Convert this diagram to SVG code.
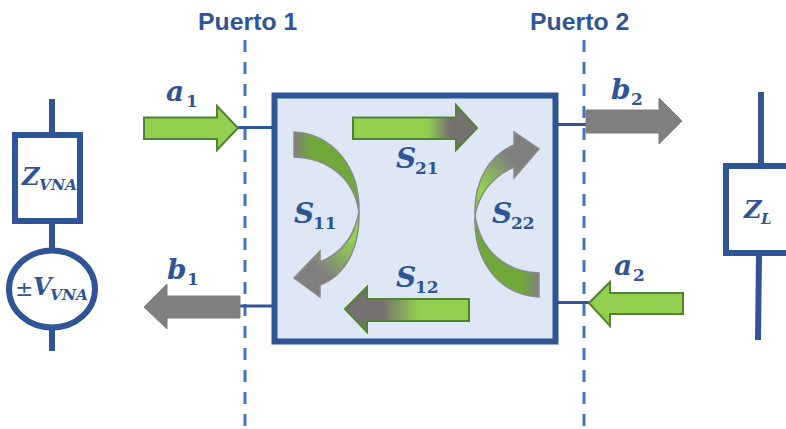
<svg xmlns="http://www.w3.org/2000/svg" width="786" height="429" viewBox="0 0 786 429">
<style>
.w{fill:none;stroke:#2f5597;stroke-width:6}
.t{fill:none;stroke:#2f5597;stroke-width:3}
.d{fill:none;stroke:#4472c4;stroke-width:3;stroke-dasharray:12 10}
.ga{fill:#92d050;stroke:#548235;stroke-width:2}
.gy{fill:#7f7f7f;stroke:#7f7f7f;stroke-width:1}
.cv{stroke:#8a8a8a;stroke-width:1.5}
.p{font:bold 24.800px "Liberation Sans",Arial,sans-serif;fill:#2f5597}
.m{font:italic bold 28px "DejaVu Serif",serif;fill:#2f5597}
.s{font:bold 17px "DejaVu Serif",serif;fill:#2f5597}
.mz{font:italic bold 24px "DejaVu Serif",serif;fill:#2f5597}
.sz{font:italic bold 15px "DejaVu Serif",serif;fill:#2f5597}
.pm{font:22px "DejaVu Sans",sans-serif;fill:#2f5597}
</style>
<defs>
<linearGradient id="g21" gradientUnits="userSpaceOnUse" x1="353" y1="0" x2="477" y2="0"><stop offset=".6" stop-color="#92d050"/><stop offset=".78" stop-color="#767171"/></linearGradient>
<linearGradient id="g12" gradientUnits="userSpaceOnUse" x1="469" y1="0" x2="345" y2="0"><stop offset=".4" stop-color="#92d050"/><stop offset=".7" stop-color="#767171"/></linearGradient>
<linearGradient id="g11a" gradientUnits="userSpaceOnUse" x1="294" y1="0" x2="322" y2="0"><stop offset="0" stop-color="#7f7f7f"/><stop offset=".6" stop-color="#70a83a"/></linearGradient>
<linearGradient id="g11b" gradientUnits="userSpaceOnUse" x1="345" y1="235" x2="318" y2="270"><stop offset="0" stop-color="#92d050"/><stop offset="1" stop-color="#7f7f7f"/></linearGradient>
<linearGradient id="g22a" gradientUnits="userSpaceOnUse" x1="539" y1="0" x2="511" y2="0"><stop offset="0" stop-color="#7f7f7f"/><stop offset=".6" stop-color="#70a83a"/></linearGradient>
<linearGradient id="g22b" gradientUnits="userSpaceOnUse" x1="485" y1="190" x2="512" y2="160"><stop offset="0" stop-color="#92d050"/><stop offset="1" stop-color="#7f7f7f"/></linearGradient>
</defs>
<text class="p" x="198" y="30">Puerto 1</text>
<text class="p" x="530" y="30">Puerto 2</text>
<g id="connectors">
<path class="d" d="M245 40V429"/>
<path class="d" d="M584 40V429"/>
<path class="t" d="M238 127.500H272"/>
<path class="t" d="M240 306H272"/>
<path class="t" d="M558 124.500H586"/>
<path class="t" d="M558 302.500H589"/>
</g>
<g id="vna">
<path class="w" d="M52 99V133M52 223V250M52 328V351"/>
<rect class="w" x="15" y="135" width="65" height="86"/>
<ellipse class="w" cx="52" cy="289" rx="43" ry="38.500"/>
<text class="mz" x="22" y="185">Z</text><text class="sz" x="39" y="190" textLength="38" lengthAdjust="spacingAndGlyphs">VNA</text>
<text class="pm" x="15" y="296">±</text><text class="mz" x="33" y="295">V</text><text class="sz" x="50" y="300" textLength="38" lengthAdjust="spacingAndGlyphs">VNA</text>
</g>
<g id="load">
<path class="w" d="M761 92V164M759 255L758 340"/>
<rect class="w" x="726" y="166" width="80" height="87"/>
<text class="mz" x="744" y="218">Z</text><text class="sz" x="761" y="224">L</text>
</g>
<g id="network">
<rect x="274.500" y="95.500" width="281" height="246" fill="#dde8f4" stroke="#2f5597" stroke-width="6"/>
</g>
<g id="a1"><path class="ga" d="M144 117.500H217V106L238 128L217 150V139H144Z"/><text class="m" x="166" y="101">a</text><text class="s" x="186" y="107">1</text></g>
<g id="b1"><path class="gy" d="M144 307L167 284V296H240V318H167V329Z"/><text class="m" x="167" y="279">b</text><text class="s" x="187" y="285">1</text></g>
<g id="b2"><path class="gy" d="M586 110H659V98L682 121L659 144V133H586Z"/><text class="m" x="611" y="99">b</text><text class="s" x="631" y="105">2</text></g>
<g id="a2"><path class="ga" d="M589 303L610 282V293H683V314H610V326Z"/><text class="m" x="614" y="275">a</text><text class="s" x="633" y="281">2</text></g>
<g id="s21"><path d="M353 117.500H456V105L477 128L456 150V139H353Z" fill="url(#g21)" stroke="#548235" stroke-width="2"/><text class="m" x="396" y="168">S</text><text class="s" x="415" y="174">21</text></g>
<g id="s12"><path d="M469 299H367V287L345 309L367 332V321H469Z" fill="url(#g12)" stroke="#548235" stroke-width="2"/><text class="m" x="396" y="287">S</text><text class="s" x="415" y="293">12</text></g>
<g id="s11">
<path class="cv" fill="url(#g11a)" d="M294 132C332 134 360 166 359 212C354 178 328 158 294 157Z"/>
<path class="cv" fill="url(#g11b)" d="M359 212C360 250 344 276 320 285V297L294 278L320 251V262C340 254 354 238 359 212Z"/>
<text class="m" x="294" y="223">S</text><text class="s" x="313" y="229">11</text>
</g>
<g id="s22">
<path class="cv" fill="url(#g22a)" d="M539 297C501 295 473 263 475 215C480 250 505 272 539 273Z"/>
<path class="cv" fill="url(#g22b)" d="M475 215C474 180 490 155 514 145V132L539 149L514 178V167C494 176 480 190 475 215Z"/>
<text class="m" x="492" y="223">S</text><text class="s" x="511" y="229">22</text>
</g>
</svg>
